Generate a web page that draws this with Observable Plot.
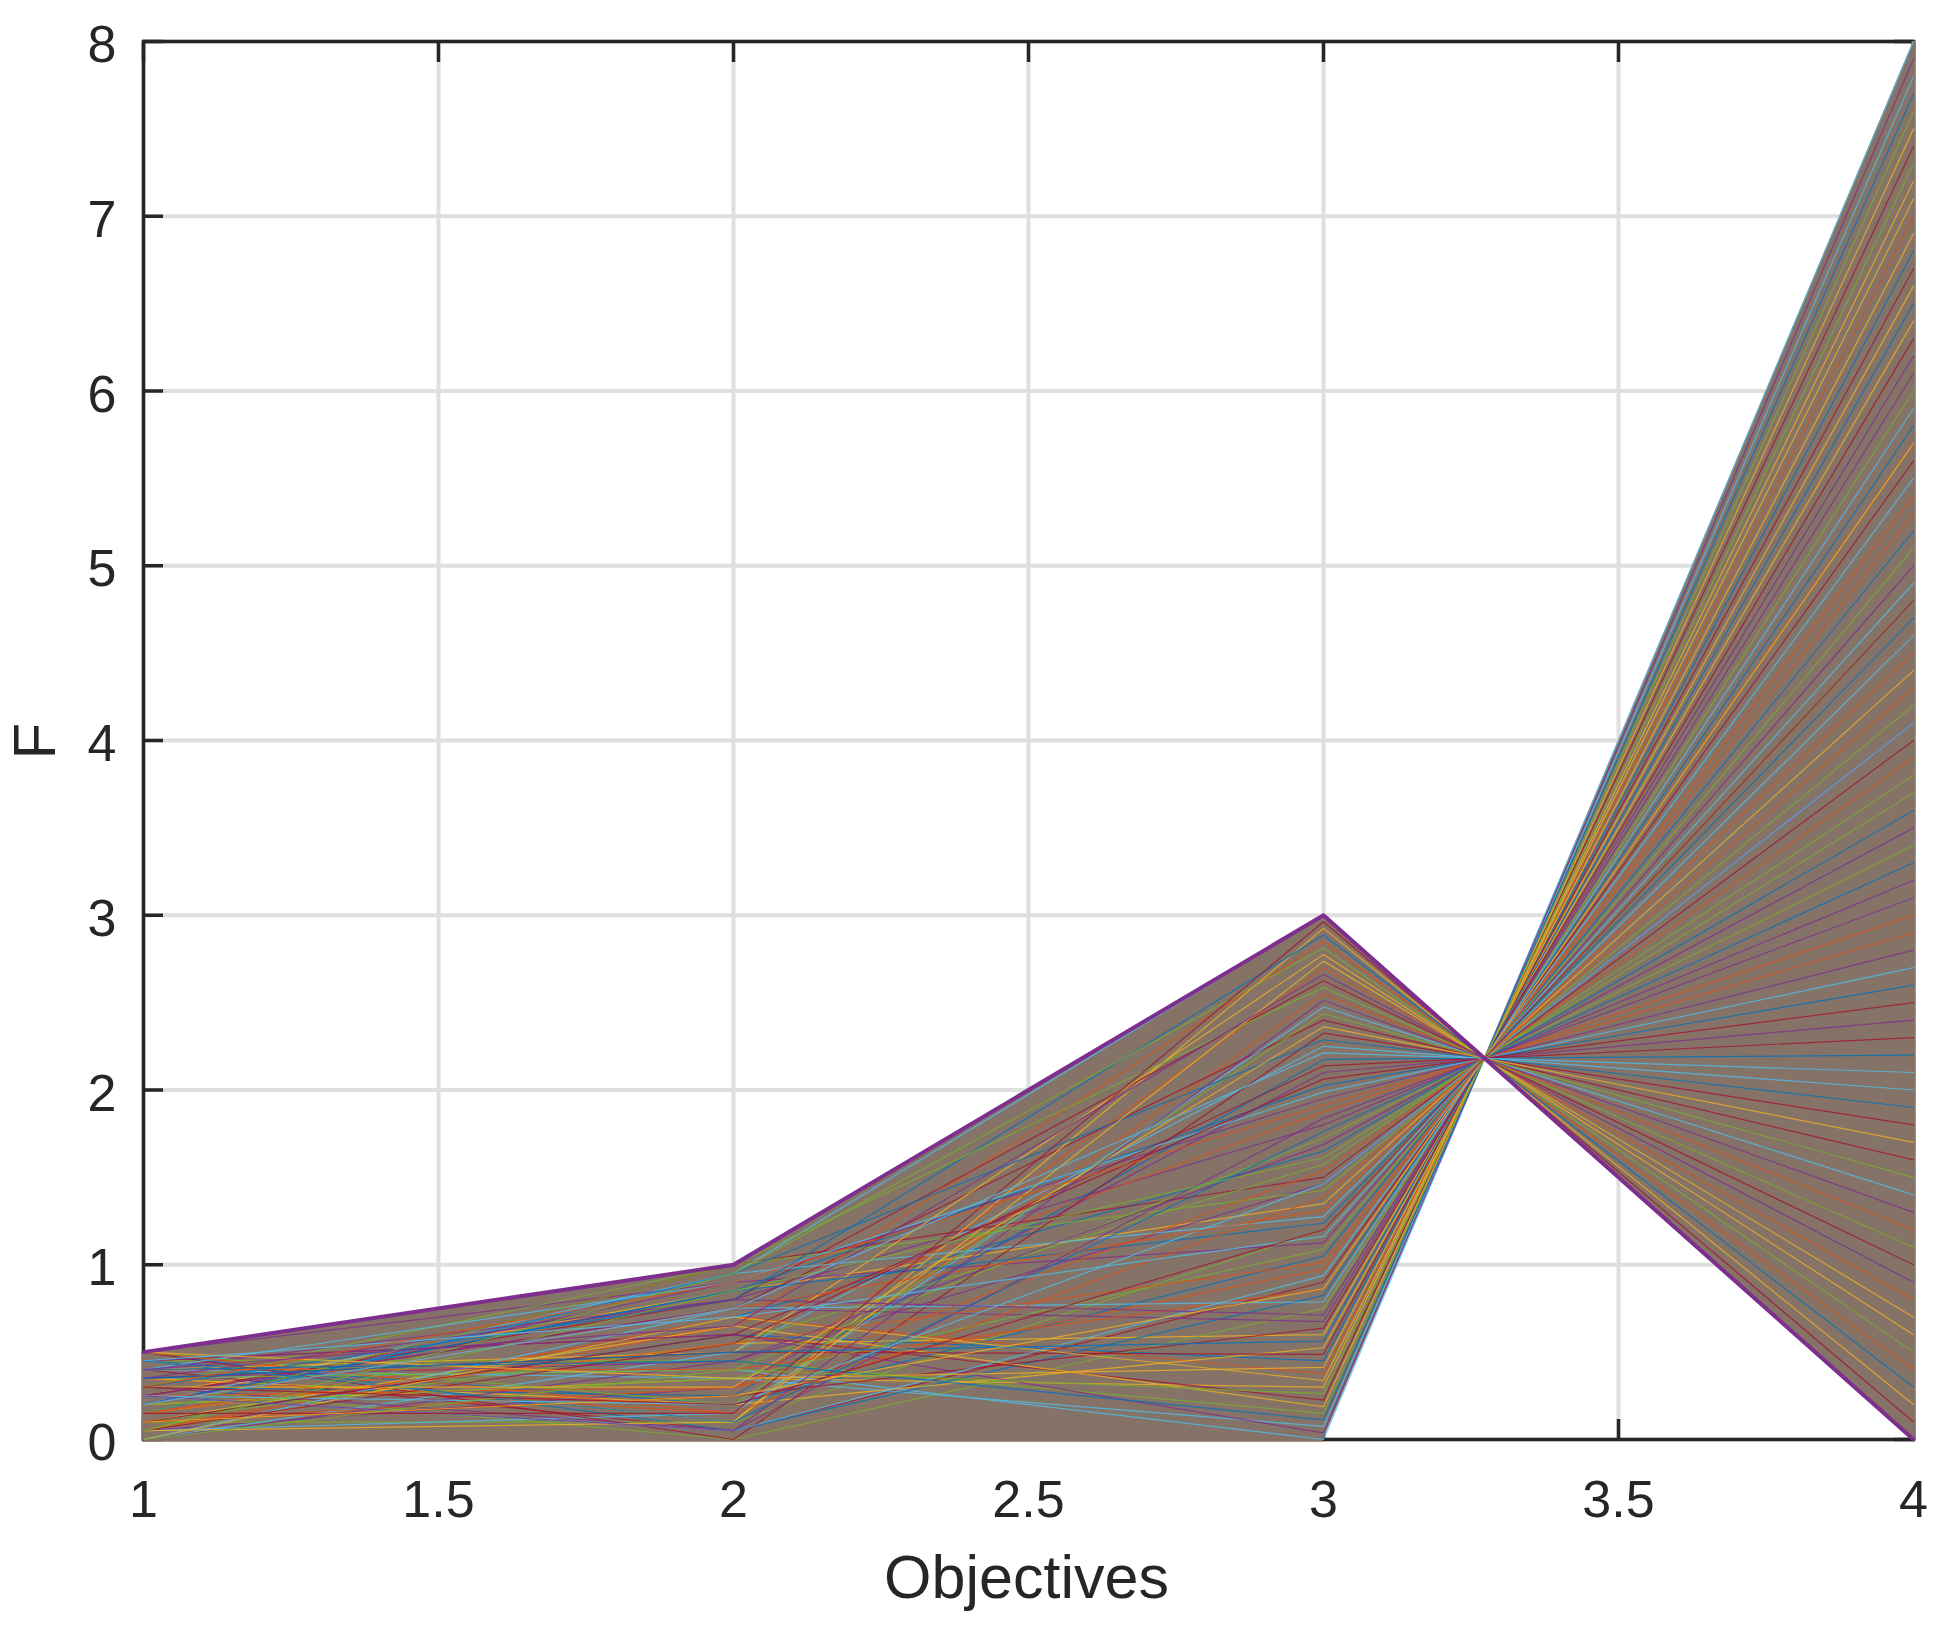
<!DOCTYPE html>
<html>
<head>
<meta charset="utf-8">
<script src="https://cdn.jsdelivr.net/npm/d3@7"></script>
<script src="https://cdn.jsdelivr.net/npm/@observablehq/plot@0.6"></script>
<style>html,body{margin:0;padding:0;background:#fff}svg{display:block}</style>
</head>
<body>
<div id="chart"></div>
<script>
// Envelope and extreme line.
const envX = [1, 2, 3, 3.2727, 4];
const envUpper = [0.5, 1, 3, 2.18, 8];
const envLower = [0, 0, 0, 2.18, 0];
const objectives = [1, 2, 3, 4];
const extremeLine = [0.5, 1, 3, 0];
const xTicks = [1, 1.5, 2, 2.5, 3, 3.5, 4];
const yTicks = [0, 1, 2, 3, 4, 5, 6, 7, 8];
const palette = ["#0072BD", "#D95319", "#EDB120", "#7E2F8E", "#77AC30", "#4DBEEE", "#A2142F"];

// Hand-listed sample of the (unreadable) thousands of lines, placed inside the visible envelope.
const f1 = [.1,.35,.25,.05,.45,.2,.4,0,.3,.15,.5,.1,.35,.25,.45,.05,.2,.4,.3,0,.15,
  .3,.05,.45,.2,.1,.4,.25,.5,.15,.35,0,.3,.05,.45,.2,.1,.4,.25,.35,.15,.5,
  .2,.4,.1,.3,.5,0,.35,.15,.25,.05,.45,.2,.4,.1,.3,.5,0,.35,.15,.25,.05,
  .45,.15,.3,.35,.05,.25,.1,.4,.2,.5,.25,.05,.45,.15,.35,.3,.1,.4,0,.2,.3];
const f2 = [.6,.15,.85,.3,.45,.95,.05,.7,.25,.55,.9,.1,.4,.75,.2,.65,.35,.8,0,.5,1,
  .25,.7,.1,.9,.55,.35,.8,.05,.65,.2,.45,1,.15,.6,.85,.3,.5,.75,.4,.95,0,
  .85,.4,.65,.05,.2,.75,.5,.95,.3,.1,.6,.35,.9,.25,.8,.15,.7,.45,1,.05,.55,
  .1,.55,.3,.8,.95,.2,.6,.45,.75,.35,.05,.85,.7,.15,.5,.9,.25,.65,.4,.75,.2];
const f3 = [.45,2.55,1.35,2.1,.15,3,.9,1.65,2.7,.6,1.95,1.2,0,2.4,1.05,2.85,.3,1.8,.75,2.25,1.5,
  2.175,.375,2.925,1.125,1.575,.075,2.625,.825,1.875,.525,1.4625,1.425,2.475,.225,2.025,.975,2.775,.675,1.725,1.275,2.325,
  1.2375,.8625,.1875,1.8375,2.4375,.7875,.4875,2.2875,1.5375,2.7375,.0375,1.0875,1.9875,.6375,2.8875,1.3875,.3375,1.6875,2.5875,.9375,2.1375,
  1.7625,1.0125,2.3625,.7125,2.8125,1.4625,2.0625,.1125,1.3125,.4125,2.5125,1.6125,1.1625,2.9625,.5625,1.9125,.8625,2.6625,.2625,2.2125,1.2];
const f4 = [6.8,1.2,4.4,2.4,7.6,0,5.6,3.6,.8,6.4,2.8,4.8,8,1.6,5.2,.4,7.2,3.2,6,2,4,
  2.2,7,.2,5,3.8,7.8,1,5.8,3,6.6,4.1,4.2,1.4,7.4,2.6,5.4,.6,6.2,3.4,4.6,1.8,
  4.7,5.7,7.5,3.1,1.5,5.9,6.7,1.9,3.9,.7,7.9,5.1,2.7,6.3,.3,4.3,7.1,3.5,1.1,5.5,2.3,
  3.3,5.3,1.7,6.1,.5,4.1,2.5,7.7,4.5,6.9,1.3,3.7,4.9,.1,6.5,2.9,5.7,.9,7.3,2.1,4.8];

const envelope = envX.map((x, i) => ({x, y1: envLower[i], y2: envUpper[i]}));
const rows = f1.flatMap((_, i) =>
  [f1[i], f2[i], f3[i], f4[i]].map((v, j) => ({x: objectives[j], y: v, i}))
);
const extreme = objectives.map((x, j) => ({x, y: extremeLine[j]}));

const ink = "#262626";
const meanInk = "#867367";
const font = "'Liberation Sans', Arial, sans-serif";
const blank = () => "";
const asText = d => String(d);

const fig = Plot.plot({
  width: 1943,
  height: 1631,
  marginLeft: 143,
  marginRight: 30,
  marginTop: 41,
  marginBottom: 192,
  style: {fontFamily: font, background: "#fff", color: ink},
  x: {domain: [1, 4]},
  y: {domain: [0, 8]},
  marks: [
    Plot.gridX(xTicks, {stroke: "#dfdfdf", strokeOpacity: 1, strokeWidth: 4}),
    Plot.gridY(yTicks, {stroke: "#dfdfdf", strokeOpacity: 1, strokeWidth: 4}),
    Plot.frame({stroke: ink, strokeWidth: 3.5}),
    Plot.axisX({anchor: "bottom", ticks: xTicks, tickFormat: asText, tickSize: -20, tickPadding: 61, fontSize: 52, label: null, stroke: ink, strokeWidth: 3.5, fill: ink}),
    Plot.axisX({anchor: "top", ticks: xTicks, tickFormat: blank, tickSize: -20, label: null, stroke: ink, strokeWidth: 3.5}),
    Plot.axisY({anchor: "left", ticks: yTicks, tickFormat: blank, tickSize: -20, label: null, stroke: ink, strokeWidth: 3.5}),
    Plot.axisY({anchor: "left", ticks: yTicks, tickFormat: asText, tickSize: 0, tickPadding: 27, dy: 4, fontSize: 52, label: null, fill: ink}),
    Plot.axisY({anchor: "right", ticks: yTicks, tickFormat: blank, tickSize: -20, label: null, stroke: ink, strokeWidth: 3.5}),
    Plot.areaY(envelope, {x: "x", y1: "y1", y2: "y2", fill: meanInk}),
    // The reference's lines paint over the spines wherever they touch them.
    Plot.ruleX([objectives[0]], {y1: envLower[0], y2: envUpper[0], stroke: meanInk, strokeWidth: 4}),
    Plot.ruleX([objectives[3]], {y1: envLower[4], y2: envUpper[4], stroke: meanInk, strokeWidth: 4}),
    Plot.ruleY([envLower[0]], {x1: objectives[0], x2: objectives[2], stroke: meanInk, strokeWidth: 4}),
    Plot.line(rows, {x: "x", y: "y", z: "i", stroke: d => palette[d.i % 7], strokeWidth: 1.2, strokeOpacity: 0.8}),
    Plot.line(extreme, {x: "x", y: "y", stroke: "#7E2F8E", strokeWidth: 4}),
    Plot.text(["Objectives"], {frameAnchor: "bottom", dx: -2, dy: 158, fontSize: 61, fill: ink}),
    Plot.text(["F"], {frameAnchor: "left", dx: -108, dy: 19, rotate: -90, fontSize: 60, fill: ink})
  ]
});
document.getElementById("chart").appendChild(fig);
</script>
</body>
</html>
